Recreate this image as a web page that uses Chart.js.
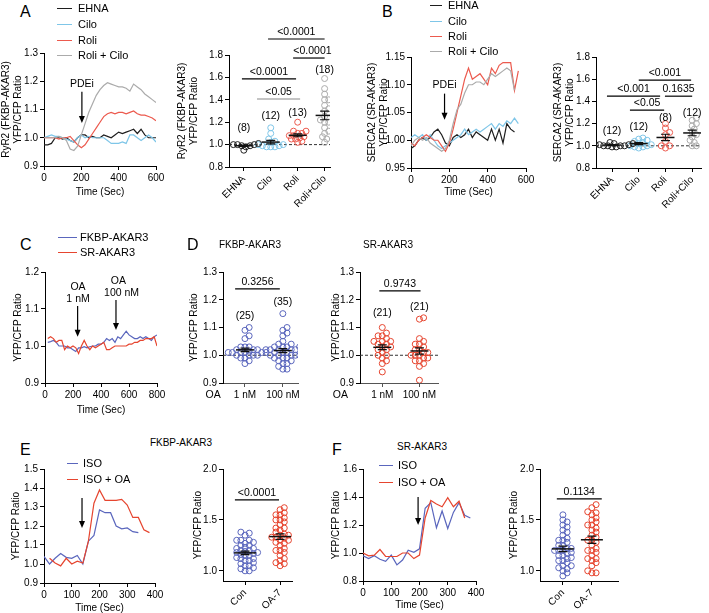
<!DOCTYPE html>
<html>
<head>
<meta charset="utf-8">
<script src="https://cdn.jsdelivr.net/npm/chart.js@4.4.1/dist/chart.umd.min.js"></script>
<style>
  body { margin: 0; background: #fff; }
  #fig { position: relative; width: 709px; height: 613px; overflow: hidden; font-family: 'Liberation Sans', Arial, sans-serif; }
  #fig canvas { position: absolute; }
  .letter { position: absolute; font-size: 16px; line-height: 1; color: #000; }
  .ttl { position: absolute; font-size: 10px; line-height: 1; color: #000; white-space: nowrap; transform: translate(-50%, -50%); }
  .leg { position: absolute; font-size: 11px; line-height: 12px; height: 12px; white-space: nowrap; color: #000; }
  .leg i { position: absolute; top: 6px; border-top: 1.5px solid; }
  .leg span { position: absolute; top: 0; }
</style>
</head>
<body>
<div id="fig"></div>
<script>
const FONT = "'Liberation Sans', Arial, sans-serif";

// --- A: RyR2 (FKBP-AKAR3) time course ---
const timeA = [0,20,40,60,80,100,120,140,160,180,200,220,240,260,280,300,320,340,360,380,400,420,440,460,480,500,520,540,560,580,600];
const ryrEHNA = [0.975,0.975,0.98,1.0,1.0,0.995,1.0,0.99,0.985,1.0,1.01,1.01,1.0,1.005,1.0,1.0,1.01,1.005,1.0,1.01,1.02,1.015,1.02,1.025,1.03,1.015,1.03,1.01,1.0,1.0,1.0];
const ryrCilo = [1.0,1.005,1.01,1.005,1.005,1.0,0.995,0.99,0.985,1.0,1.01,1.0,1.005,1.0,1.0,1.0,1.0,0.99,0.98,0.98,0.98,0.985,0.98,1.01,1.01,1.0,0.99,1.0,1.01,1.0,0.985];
const ryrRoli = [1.0,1.0,1.0,1.0,0.995,1.0,1.0,1.005,0.99,0.975,0.965,0.975,0.995,1.015,1.035,1.055,1.075,1.085,1.09,1.085,1.09,1.09,1.085,1.09,1.095,1.085,1.08,1.08,1.075,1.07,1.06];
const ryrRoliCilo = [1.0,1.0,1.0,1.0,1.005,1.0,0.99,0.96,0.955,0.97,1.01,1.05,1.09,1.12,1.15,1.17,1.185,1.195,1.19,1.185,1.18,1.18,1.175,1.165,1.19,1.18,1.17,1.155,1.145,1.135,1.125];

// --- A: scatter ---
const pdeCats = ['EHNA', 'Cilo', 'Roli', 'Roli+Cilo'];
const ryrPtsEHNA = [1.01,1.0,1.0,0.99,0.99,0.98,0.95,1.0];
const ryrPtsCilo = [1.15,1.1,1.05,1.03,1.02,1.0,0.99,0.98,0.98,1.0,0.99,0.98];
const ryrPtsRoli = [1.2,1.12,1.12,1.1,1.1,1.08,1.08,1.07,1.06,1.05,1.05,1.03,1.02];
const ryrPtsRoliCilo = [1.59,1.5,1.45,1.4,1.4,1.35,1.32,1.3,1.25,1.22,1.2,1.2,1.15,1.12,1.1,1.07,1.05,1.02];

// --- B: SERCA2 (SR-AKAR3) time course ---
const timeB = [0,20,40,60,80,100,120,140,160,180,200,220,240,260,280,300,320,340,360,380,400,420,440,460,480,500,520,540,560];
const sercaEHNA = [0.985,0.99,1.0,1.005,1.0,1.005,1.015,1.02,1.01,0.995,0.99,1.005,1.01,1.005,1.01,1.02,1.005,1.015,1.01,1.005,1.0,1.02,1.0,1.02,0.995,1.03,1.02,1.015];
const sercaCilo = [1.005,1.01,1.005,1.01,1.0,1.01,1.0,0.99,0.985,0.99,0.995,1.0,1.005,1.01,1.02,1.01,1.015,1.02,1.015,1.02,1.025,1.03,1.02,1.03,1.025,1.035,1.03,1.04,1.03];
const sercaRoli = [0.995,0.99,1.0,1.005,1.01,1.005,1.0,1.0,0.99,0.98,0.995,1.02,1.05,1.08,1.11,1.13,1.11,1.115,1.12,1.11,1.1,1.13,1.12,1.135,1.14,1.14,1.14,1.09,1.125];
const sercaRoliCilo = [0.99,1.0,1.005,1.0,1.005,0.995,0.99,0.985,0.98,0.985,1.0,1.03,1.055,1.065,1.085,1.1,1.1,1.105,1.105,1.1,1.11,1.12,1.115,1.12,1.125,1.13,1.125,1.09];

// --- B: scatter ---
const sercaPtsEHNA = [1.03,1.02,1.02,1.01,1.01,1.0,1.0,1.0,0.99,0.99,1.0,1.01];
const sercaPtsCilo = [1.07,1.06,1.05,1.04,1.03,1.02,1.01,1.0,0.99,0.99,0.98,1.0];
const sercaPtsRoli = [1.2,1.16,1.12,1.1,1.04,1.0,1.0,0.98];
const sercaPtsRoliCilo = [1.25,1.23,1.2,1.18,1.15,1.12,1.1,1.08,1.05,1.03,1.0,1.0];

// --- C: OA time course ---
const timeC = [20,40,60,80,100,120,140,160,180,200,220,240,260,280,300,320,340,360,380,400,420,440,460,480,500,520,540,560,580,600,620,640,660,680,700,720,740,760,780,800];
const oaFKBP = [1.01,1.012,1.015,1.01,1.0,1.0,1.0,0.995,0.995,0.99,0.985,0.995,0.995,0.998,0.995,0.998,1.0,1.0,1.005,1.005,1.01,1.02,1.015,1.02,1.01,1.025,1.02,1.03,1.04,1.03,1.025,1.02,1.02,1.025,1.02,1.025,1.02,1.015,1.025,1.03];
const oaSR = [1.02,1.025,1.02,1.01,1.015,1.015,0.99,1.0,0.995,1.0,0.995,0.98,1.0,1.015,1.0,0.99,1.0,0.995,1.0,1.005,1.01,0.99,0.99,0.995,1.0,1.0,1.0,1.0,1.0,1.005,1.005,1.01,1.01,1.015,1.015,1.02,1.02,1.02,1.025,1.0];

// --- D: OA scatter ---
const oaCats = ['1 nM', '100 nM'];
const dFKBP1 = [1.1,1.09,1.07,1.06,1.03,1.03,1.02,1.02,1.02,1.015,1.01,1.01,1.01,1.01,1.0,1.0,1.0,0.99,0.99,0.98,0.97,1.02,1.03,1.01,1.0];
const dFKBP100 = [1.15,1.1,1.09,1.08,1.07,1.05,1.04,1.04,1.03,1.03,1.03,1.02,1.02,1.02,1.02,1.01,1.01,1.01,1.01,1.0,1.0,1.0,1.0,0.99,0.99,0.99,0.98,0.98,0.97,0.97,0.96,0.95,0.95,1.0,1.03];
const dSR1 = [1.1,1.08,1.07,1.07,1.06,1.05,1.05,1.04,1.04,1.03,1.03,1.02,1.02,1.01,1.0,1.0,0.99,0.98,0.97,0.94,1.05];
const dSR100 = [1.135,1.13,1.06,1.05,1.04,1.04,1.03,1.02,1.02,1.01,1.0,1.0,1.0,0.99,0.99,0.98,0.98,0.97,0.96,0.91,1.01];

// --- E / F: ISO time courses ---
const timeEIso = [0,20,40,60,80,100,120,140,160,180,200,220,240,260,280,300,320,340];
const eIso = [1.04,1.0,1.03,1.055,1.035,1.03,1.045,1.0,1.12,1.15,1.285,1.27,1.27,1.2,1.185,1.19,1.17,1.165];
const timeEIsoOa = [20,40,60,80,100,120,140,160,180,200,220,240,260,280,300,320,340,360,380];
const eIsoOa = [1.03,1.005,0.99,1.03,1.0,1.015,1.005,1.12,1.32,1.39,1.335,1.335,1.335,1.34,1.31,1.245,1.245,1.18,1.165];
const timeFIso = [0,20,40,60,80,100,120,140,160,180,200,220,240,260,280,300,320,340,360,380];
const fIso = [0.98,0.96,0.98,0.955,0.94,0.985,0.915,0.95,1.02,1.005,1.03,1.32,1.36,1.18,1.3,1.175,1.29,1.36,1.27,1.25];
const timeFIsoOa = [0,20,40,60,80,100,120,140,160,180,200,220,240,260,280,300,320,340,360];
const fIsoOa = [1.0,0.98,0.985,1.025,0.975,0.975,0.975,1.0,1.0,0.96,0.985,1.25,1.375,1.35,1.33,1.395,1.33,1.37,1.25];

// --- E / F: scatter ---
const oa7Cats = ['Con', 'OA-7'];
const eCon = [1.38,1.37,1.35,1.3,1.3,1.28,1.27,1.25,1.25,1.23,1.22,1.2,1.2,1.19,1.18,1.18,1.17,1.16,1.15,1.15,1.13,1.12,1.1,1.1,1.08,1.07,1.05,1.05,1.03,1.0,1.0,1.02,1.12,1.22,1.3];
const eOA7 = [1.62,1.6,1.57,1.55,1.55,1.52,1.5,1.48,1.45,1.42,1.4,1.38,1.36,1.35,1.33,1.33,1.32,1.3,1.28,1.25,1.22,1.2,1.18,1.15,1.12,1.1,1.08,1.07,1.05,1.35,1.42,1.27,1.5,1.3,1.2];
const fCon = [1.55,1.5,1.48,1.45,1.43,1.4,1.38,1.35,1.32,1.3,1.28,1.25,1.22,1.2,1.2,1.18,1.17,1.15,1.13,1.12,1.1,1.08,1.05,1.05,1.03,1.0,0.98,0.95,1.25,1.2,1.15,1.1,1.3,1.22,1.02];
const fOA7 = [1.65,1.62,1.58,1.57,1.55,1.52,1.5,1.48,1.45,1.42,1.4,1.38,1.35,1.33,1.3,1.28,1.25,1.22,1.2,1.18,1.15,1.12,1.1,1.08,1.05,1.0,0.98,0.98,1.45,1.3,1.2,1.12];

// tick values
const ticksTimeA = [0,200,400,600];
const ticksTimeC = [0,200,400,600,800];
const ticksTimeE = [0,100,200,300,400];
const ticksRatioA = [0.9,1.0,1.1,1.2,1.3];
const ticksRatioB = [0.95,1.0,1.05,1.1,1.15];
const ticksRatioC = [0.9,1.0,1.1,1.2];
const ticksRatioE = [0.9,1.0,1.1,1.2,1.3,1.4,1.5];
const ticksRatioF = [0.8,1.0,1.2,1.4,1.6];
const ticksDots = [0.8,1.0,1.2,1.4,1.6,1.8];
const ticksDotsEF = [1.0,1.5,2.0];

const C_BLACK = '#1e1e1e', C_CILO = '#7fc6e8', C_ROLI = '#ec5a4e', C_RC = '#ababab';
const C_BLUE = '#5a66bd', C_RED = '#e6452f';

Chart.defaults.font.family = FONT;
Chart.defaults.font.size = 10;
Chart.defaults.color = '#000';
Chart.defaults.animation = false;
Chart.defaults.plugins.legend.display = false;
Chart.defaults.plugins.tooltip.enabled = false;

const fig = document.getElementById('fig');

function mount(box) {
  const c = document.createElement('canvas');
  const left = box.l - box.yW, top = box.t - box.padT;
  const w = box.r - left + box.padR, h = box.b - top + box.xH + box.padB;
  c.width = w; c.height = h;
  c.style.left = left + 'px'; c.style.top = top + 'px';
  c.style.width = w + 'px'; c.style.height = h + 'px';
  fig.appendChild(c);
  return c;
}

function yScale(box, min, max, list, digits, title) {
  return {
    type: 'linear', position: 'left', min, max,
    afterFit: s => { s.width = box.yW; },
    afterBuildTicks: s => { s.ticks = list.map(v => ({ value: v })); },
    border: { color: '#000', width: 1 },
    grid: { drawOnChartArea: false, tickLength: 4, color: '#000' },
    ticks: { color: '#000', padding: 2, autoSkip: false, callback: v => Number(v).toFixed(digits) },
    title: { display: true, text: title, color: '#000', padding: { top: 0, bottom: 2 } }
  };
}

function xScale(box, min, max, list, labelFn, o) {
  o = o || {};
  return {
    type: 'linear', position: 'bottom', min, max,
    afterFit: s => { s.height = box.xH; },
    afterBuildTicks: s => { s.ticks = list.map(v => ({ value: v })); },
    border: { color: o.axisColor || '#000', width: 1 },
    grid: { drawOnChartArea: false, tickLength: o.tick || 4, color: o.axisColor || '#000' },
    ticks: { color: '#000', padding: o.pad || 2, autoSkip: false, minRotation: o.rot || 0, maxRotation: o.rot || 0, callback: labelFn },
    title: { display: !!o.title, text: o.title, color: '#000', padding: { top: 0, bottom: 2 } }
  };
}

// brackets, counts, arrows and the dashed 1.0 reference
const annot = {
  id: 'annot',
  beforeDatasetsDraw(chart, args, opts) {
    const { ctx, chartArea } = chart;
    (opts.items || []).filter(it => it.k === 'hline').forEach(it => {
      const y = chart.scales.y.getPixelForValue(it.y);
      ctx.save();
      ctx.strokeStyle = '#333'; ctx.lineWidth = 1; ctx.setLineDash([3, 2]);
      ctx.beginPath(); ctx.moveTo(chartArea.left, y); ctx.lineTo(chartArea.right, y); ctx.stroke();
      ctx.restore();
    });
  },
  afterDatasetsDraw(chart, args, opts) {
    const { ctx } = chart;
    const xs = chart.scales.x, ys = chart.scales.y;
    ctx.save();
    ctx.font = '10.5px ' + FONT;
    ctx.fillStyle = '#000';
    ctx.textAlign = 'center';
    (opts.items || []).forEach(it => {
      if (it.k === 'br') {
        const x1 = xs.getPixelForValue(it.x1), x2 = xs.getPixelForValue(it.x2), y = ys.getPixelForValue(it.y);
        ctx.strokeStyle = it.color || '#000'; ctx.lineWidth = 1.2;
        ctx.beginPath(); ctx.moveTo(x1, y); ctx.lineTo(x2, y); ctx.stroke();
        ctx.textBaseline = 'bottom';
        const tx = it.tx !== undefined ? xs.getPixelForValue(it.tx) : (x1 + x2) / 2;
        ctx.fillText(it.text, tx, y - 2);
      } else if (it.k === 'txt') {
        ctx.textBaseline = 'middle';
        ctx.fillText(it.text, xs.getPixelForValue(it.x), ys.getPixelForValue(it.y));
      } else if (it.k === 'arrow') {
        const x = xs.getPixelForValue(it.x), y1 = ys.getPixelForValue(it.y1), y2 = ys.getPixelForValue(it.y2);
        ctx.strokeStyle = '#000'; ctx.lineWidth = 1.2;
        ctx.beginPath(); ctx.moveTo(x, y1); ctx.lineTo(x, y2 - 5); ctx.stroke();
        ctx.beginPath(); ctx.moveTo(x - 3, y2 - 7); ctx.lineTo(x + 3, y2 - 7); ctx.lineTo(x, y2); ctx.closePath(); ctx.fill();
      }
    });
    ctx.restore();
  }
};

function trace(times, vals, color) {
  return { data: vals.map((v, i) => ({ x: times[i], y: v })), borderColor: color, borderWidth: 1.2, pointRadius: 0, tension: 0, fill: false };
}

function lineChart(box, spec) {
  new Chart(mount(box), {
    type: 'line',
    data: { datasets: spec.series },
    options: {
      responsive: false,
      layout: { padding: { left: 0, top: box.padT, right: box.padR, bottom: box.padB } },
      scales: {
        x: xScale(box, spec.xr[0], spec.xr[1], spec.xTicks, v => String(v), { title: 'Time (Sec)', pad: 2 }),
        y: yScale(box, spec.yr[0], spec.yr[1], spec.yTicks, spec.digits, spec.yTitle)
      },
      plugins: { annot: { items: spec.items || [] } }
    },
    plugins: [annot]
  });
}

// simple beeswarm: spread points sideways where they would overlap
function swarm(vals, pxY, dia) {
  const order = vals.map((v, i) => i).sort((a, b) => vals[a] - vals[b]);
  const placed = [], offs = new Array(vals.length).fill(0);
  const step = dia * 0.55;
  order.forEach(i => {
    for (let k = 0; k < 60; k++) {
      const o = (k === 0 ? 0 : (k % 2 ? 1 : -1) * Math.ceil(k / 2)) * step;
      const hit = placed.some(p => (p.o - o) ** 2 + ((p.v - vals[i]) * pxY) ** 2 < dia * dia);
      if (!hit) { offs[i] = o; placed.push({ o, v: vals[i] }); break; }
    }
  });
  return offs;
}

function stats(v) {
  const n = v.length, m = v.reduce((a, b) => a + b, 0) / n;
  const sd = Math.sqrt(v.reduce((a, b) => a + (b - m) ** 2, 0) / (n - 1));
  return { m, se: sd / Math.sqrt(n) };
}

function dotChart(box, spec) {
  const pxX = (box.r - box.l) / (spec.xr[1] - spec.xr[0]);
  const pxY = (box.b - box.t) / (spec.yr[1] - spec.yr[0]);
  const ds = [];
  spec.groups.forEach((vals, gi) => {
    const offs = swarm(vals, pxY, spec.dia || 3.8);
    ds.push({ type: 'scatter', data: vals.map((v, i) => ({ x: gi + offs[i] / pxX, y: v })), pointStyle: 'circle', pointRadius: 3,
      borderColor: spec.colors[gi], backgroundColor: 'rgba(255,255,255,0)', borderWidth: 1, order: 2 });
    const s = stats(vals), mh = spec.meanHalf / pxX, ch = 4.5 / pxX;
    ds.push({ type: 'line', data: [{ x: gi - mh, y: s.m }, { x: gi + mh, y: s.m }], borderColor: '#111', borderWidth: 1.5, pointRadius: 0, order: 1 });
    ds.push({ type: 'line', data: [
      { x: gi - ch, y: s.m + s.se }, { x: gi + ch, y: s.m + s.se }, { x: gi, y: null },
      { x: gi, y: s.m + s.se }, { x: gi, y: s.m - s.se }, { x: gi, y: null },
      { x: gi - ch, y: s.m - s.se }, { x: gi + ch, y: s.m - s.se }],
      borderColor: '#111', borderWidth: 1.2, pointRadius: 0, spanGaps: false, order: 1 });
  });
  const catTicks = spec.cats.map((c, i) => i);
  new Chart(mount(box), {
    type: 'scatter',
    data: { datasets: ds },
    options: {
      responsive: false,
      layout: { padding: { left: 0, top: box.padT, right: box.padR, bottom: box.padB } },
      scales: {
        x: xScale(box, spec.xr[0], spec.xr[1], catTicks, v => spec.cats[Math.round(v)], { rot: spec.rot, axisColor: spec.axisColor, pad: spec.xPad, tick: spec.tick }),
        y: yScale(box, spec.yr[0], spec.yr[1], spec.yTicks, 1, spec.yTitle)
      },
      plugins: { annot: { items: spec.items || [] } }
    },
    plugins: [annot]
  });
}

// ---------- A ----------
lineChart({ l: 44, r: 156, t: 53, b: 166, yW: 44, xH: 34, padT: 10, padR: 14, padB: 2 }, {
  xr: [0, 600], yr: [0.9, 1.3], xTicks: ticksTimeA, yTicks: ticksRatioA, digits: 1,
  yTitle: ['RyR2 (FKBP-AKAR3)', 'YFP/CFP Ratio'],
  series: [trace(timeA, ryrRoliCilo, C_RC), trace(timeA, ryrRoli, C_ROLI), trace(timeA, ryrCilo, C_CILO), trace(timeA, ryrEHNA, C_BLACK)],
  items: [{ k: 'txt', x: 203, y: 1.19, text: 'PDEi' }, { k: 'arrow', x: 203, y1: 1.163, y2: 1.052 }]
});
dotChart({ l: 229, r: 330, t: 55, b: 167, yW: 53, xH: 46, padT: 40, padR: 8, padB: 2 }, {
  xr: [-0.55, 3.2], yr: [0.8, 1.8], yTicks: ticksDots, yTitle: ['RyR2 (FKBP-AKAR3)', 'YFP/CFP Ratio'],
  cats: pdeCats, rot: 45, meanHalf: 9,
  groups: [ryrPtsEHNA, ryrPtsCilo, ryrPtsRoli, ryrPtsRoliCilo], colors: [C_BLACK, C_CILO, C_ROLI, C_RC],
  items: [
    { k: 'hline', y: 1.0 },
    { k: 'br', x1: 0.9, x2: 3.0, y: 1.943, text: '<0.0001' },
    { k: 'br', x1: 1.83, x2: 3.0, y: 1.773, text: '<0.0001', tx: 2.55 },
    { k: 'br', x1: -0.07, x2: 1.94, y: 1.586, text: '<0.0001' },
    { k: 'br', x1: 0.49, x2: 2.09, y: 1.407, text: '<0.05', color: '#8a8a8a' },
    { k: 'txt', x: 0, y: 1.148, text: '(8)' },
    { k: 'txt', x: 1, y: 1.255, text: '(12)' },
    { k: 'txt', x: 2, y: 1.282, text: '(13)' },
    { k: 'txt', x: 3, y: 1.666, text: '(18)' }
  ]
});

// ---------- B ----------
lineChart({ l: 411, r: 526, t: 57, b: 168, yW: 45, xH: 32, padT: 10, padR: 14, padB: 2 }, {
  xr: [0, 600], yr: [0.95, 1.15], xTicks: ticksTimeA, yTicks: ticksRatioB, digits: 2,
  yTitle: ['SERCA2 (SR-AKAR3)', 'YFP/CFP Ratio'],
  series: [trace(timeB, sercaRoliCilo, C_RC), trace(timeB, sercaRoli, C_ROLI), trace(timeB, sercaCilo, C_CILO), trace(timeB, sercaEHNA, C_BLACK)],
  items: [{ k: 'txt', x: 175, y: 1.0995, text: 'PDEi' }, { k: 'arrow', x: 175, y1: 1.084, y2: 1.037 }]
});
dotChart({ l: 596, r: 701, t: 57, b: 168, yW: 44, xH: 46, padT: 40, padR: 6, padB: 2 }, {
  xr: [-0.6, 3.33], yr: [0.8, 1.8], yTicks: ticksDots, yTitle: ['SERCA2 (SR-AKAR3)', 'YFP/CFP Ratio'],
  cats: pdeCats, rot: 45, meanHalf: 9,
  groups: [sercaPtsEHNA, sercaPtsCilo, sercaPtsRoli, sercaPtsRoliCilo], colors: [C_BLACK, C_CILO, C_ROLI, C_RC],
  items: [
    { k: 'hline', y: 1.0 },
    { k: 'br', x1: 1.0, x2: 2.96, y: 1.591, text: '<0.001' },
    { k: 'br', x1: -0.19, x2: 1.8, y: 1.447, text: '<0.001' },
    { k: 'br', x1: 1.98, x2: 3.0, y: 1.447, text: '0.1635' },
    { k: 'br', x1: 0.67, x2: 1.95, y: 1.321, text: '<0.05' },
    { k: 'txt', x: 0, y: 1.132, text: '(12)' },
    { k: 'txt', x: 1, y: 1.168, text: '(12)' },
    { k: 'txt', x: 2, y: 1.249, text: '(8)' },
    { k: 'txt', x: 3, y: 1.294, text: '(12)' }
  ]
});

// ---------- C ----------
lineChart({ l: 45, r: 157, t: 272, b: 383, yW: 33, xH: 35, padT: 10, padR: 14, padB: 2 }, {
  xr: [0, 800], yr: [0.9, 1.2], xTicks: ticksTimeC, yTicks: ticksRatioC, digits: 1,
  yTitle: 'YFP/CFP Ratio',
  series: [trace(timeC, oaSR, C_RED), trace(timeC, oaFKBP, C_BLUE)],
  items: [
    { k: 'txt', x: 236, y: 1.158, text: 'OA' }, { k: 'txt', x: 236, y: 1.127, text: '1 nM' },
    { k: 'arrow', x: 233, y1: 1.108, y2: 1.025 },
    { k: 'txt', x: 524, y: 1.176, text: 'OA' }, { k: 'txt', x: 547, y: 1.144, text: '100 nM' },
    { k: 'arrow', x: 507, y1: 1.124, y2: 1.043 }
  ]
});

// ---------- D ----------
dotChart({ l: 223, r: 298, t: 272, b: 383, yW: 35, xH: 22, padT: 20, padR: 8, padB: 2 }, {
  xr: [-0.58, 1.4], yr: [0.9, 1.3], yTicks: ticksRatioA, yTitle: 'YFP/CFP Ratio',
  cats: oaCats, rot: 0, axisColor: '#555', xPad: 2, meanHalf: 9,
  groups: [dFKBP1, dFKBP100], colors: [C_BLUE, C_BLUE],
  items: [
    { k: 'hline', y: 1.0 },
    { k: 'br', x1: -0.26, x2: 0.92, y: 1.239, text: '0.3256' },
    { k: 'txt', x: 0, y: 1.141, text: '(25)' },
    { k: 'txt', x: 1, y: 1.192, text: '(35)' },
    { k: 'txt', x: -0.84, y: 0.857, text: 'OA' }
  ]
});
dotChart({ l: 360, r: 438, t: 272, b: 383, yW: 30, xH: 22, padT: 20, padR: 8, padB: 2 }, {
  xr: [-0.6, 1.5], yr: [0.9, 1.3], yTicks: ticksRatioA, yTitle: 'YFP/CFP Ratio',
  cats: oaCats, rot: 0, axisColor: '#555', xPad: 2, meanHalf: 9,
  groups: [dSR1, dSR100], colors: [C_RED, C_RED],
  items: [
    { k: 'hline', y: 1.0 },
    { k: 'br', x1: -0.08, x2: 1.03, y: 1.232, text: '0.9743' },
    { k: 'txt', x: 0, y: 1.153, text: '(21)' },
    { k: 'txt', x: 1, y: 1.172, text: '(21)' },
    { k: 'txt', x: -1.13, y: 0.857, text: 'OA' }
  ]
});

// ---------- E ----------
lineChart({ l: 44, r: 155, t: 469, b: 583, yW: 34, xH: 33, padT: 10, padR: 14, padB: 0 }, {
  xr: [0, 400], yr: [0.9, 1.5], xTicks: ticksTimeE, yTicks: ticksRatioE, digits: 1,
  yTitle: 'YFP/CFP Ratio',
  series: [trace(timeEIsoOa, eIsoOa, C_RED), trace(timeEIso, eIso, C_BLUE)],
  items: [{ k: 'arrow', x: 137, y1: 1.347, y2: 1.189 }]
});
dotChart({ l: 223, r: 292, t: 469, b: 581, yW: 31, xH: 32, padT: 10, padR: 6, padB: 0 }, {
  xr: [-0.63, 1.34], yr: [0.9, 2.0], yTicks: ticksDotsEF, yTitle: 'YFP/CFP Ratio',
  cats: oa7Cats, rot: 45, meanHalf: 11,
  groups: [eCon, eOA7], colors: [C_BLUE, C_RED],
  items: [{ k: 'br', x1: -0.29, x2: 0.97, y: 1.696, text: '<0.0001' }]
});

// ---------- F ----------
lineChart({ l: 363, r: 476, t: 469, b: 581, yW: 33, xH: 32, padT: 10, padR: 14, padB: 0 }, {
  xr: [0, 400], yr: [0.8, 1.6], xTicks: ticksTimeE, yTicks: ticksRatioF, digits: 1,
  yTitle: 'YFP/CFP Ratio',
  series: [trace(timeFIsoOa, fIsoOa, C_RED), trace(timeFIso, fIso, C_BLUE)],
  items: [{ k: 'arrow', x: 195, y1: 1.4, y2: 1.2 }]
});
dotChart({ l: 540, r: 618, t: 469, b: 581, yW: 32, xH: 32, padT: 10, padR: 8, padB: 0 }, {
  xr: [-0.79, 1.9], yr: [0.9, 2.0], yTicks: ticksDotsEF, yTitle: 'YFP/CFP Ratio',
  cats: oa7Cats, rot: 45, meanHalf: 11,
  groups: [fCon, fOA7], colors: [C_BLUE, C_RED],
  items: [{ k: 'br', x1: -0.21, x2: 1.34, y: 1.706, text: '0.1134' }]
});

// ---------- letters, titles, legends ----------
function addDiv(cls, html, css) {
  const d = document.createElement('div');
  d.className = cls; d.innerHTML = html;
  Object.assign(d.style, css);
  fig.appendChild(d);
}
[['A', 20, 4], ['B', 382, 4], ['C', 20, 237], ['D', 187, 237], ['E', 20, 442], ['F', 332, 442]]
  .forEach(([t, x, y]) => addDiv('letter', t, { left: x + 'px', top: y + 'px' }));
[['FKBP-AKAR3', 250, 245], ['SR-AKAR3', 388, 245], ['FKBP-AKAR3', 181, 443], ['SR-AKAR3', 422, 447]]
  .forEach(([t, x, y]) => addDiv('ttl', t, { left: x + 'px', top: y + 'px' }));

function legend(x, w, tx, rows) {
  rows.forEach(([cy, color, text]) => {
    addDiv('leg', '<i style="left:0;width:' + w + 'px;border-color:' + color + '"></i><span style="left:' + (tx - x) + 'px">' + text + '</span>',
      { left: x + 'px', top: (cy - 6) + 'px' });
  });
}
legend(57, 15, 78, [[8, C_BLACK, 'EHNA'], [24, C_CILO, 'Cilo'], [40, C_ROLI, 'Roli'], [55, C_RC, 'Roli + Cilo']]);
legend(430, 12, 448, [[5, C_BLACK, 'EHNA'], [21, C_CILO, 'Cilo'], [36, C_ROLI, 'Roli'], [51, C_RC, 'Roli + Cilo']]);
legend(58, 19, 80, [[237, C_BLUE, 'FKBP-AKAR3'], [252, C_RED, 'SR-AKAR3']]);
legend(67, 11, 83, [[463, C_BLUE, 'ISO'], [479, C_RED, 'ISO + OA']]);
legend(379, 14, 398, [[465, C_BLUE, 'ISO'], [482, C_RED, 'ISO + OA']]);
</script>
</body>
</html>
